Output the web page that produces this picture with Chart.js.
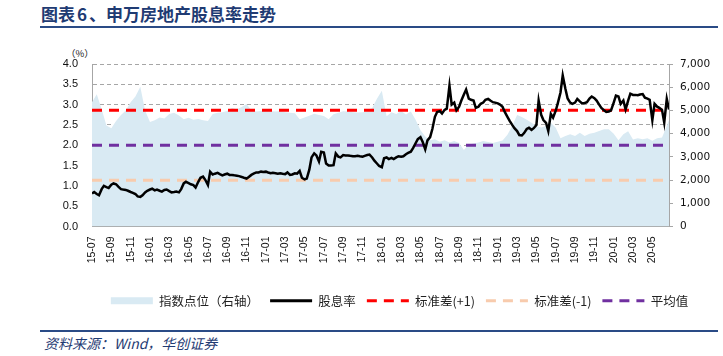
<!DOCTYPE html>
<html><head><meta charset="utf-8">
<script src="https://cdn.jsdelivr.net/npm/chart.js@4/dist/chart.umd.min.js"></script>
<style>
html,body{margin:0;padding:0;background:#fff;width:723px;height:356px;overflow:hidden;position:relative}
#title{position:absolute;left:41px;top:4px;font:bold 17px "Noto Sans CJK SC";line-height:20px;color:#1f3b73;white-space:nowrap}
#title .n{margin:0 2px}
#topline{position:absolute;left:40px;top:26px;width:678px;height:2px;background:#2a4b86}
#unit{position:absolute;left:66px;top:46px;font:9.5px "Noto Sans CJK SC";line-height:14px;color:#222;white-space:nowrap}
#wrap{position:absolute;left:0;top:30px;width:723px;height:290px}
#botline{position:absolute;left:40px;top:330px;width:678px;height:2px;background:#2a4b86}
#source{position:absolute;left:44px;top:334px;font:italic 14px "Noto Sans CJK SC";line-height:19px;color:#1f3b73;white-space:nowrap}
</style></head>
<body>
<div id="title">图表<span class="n">6</span>、申万房地产股息率走势</div>
<div id="topline"></div>
<div id="unit">（%）</div>
<div id="wrap"><canvas id="c" width="723" height="290"></canvas></div>
<div id="botline"></div>
<div id="source">资料来源：Wind，华创证券</div>
<script>
// x tick labels (every two months)
const tickLabels = ['15-07','15-09','15-11','16-01','16-03','16-05','16-07','16-09','16-11','17-01','17-03','17-05','17-07','17-09','17-11','18-01','18-03','18-05','18-07','18-09','18-11','19-01','19-03','19-05','19-07','19-09','19-11','20-01','20-03','20-05'];

// dividend yield (%), four readings per month (1st, 8th, 16th, 23rd), 2015-07 .. 2020-06
const dividendYield = [
  0.81,0.85,0.80,0.77, 0.92,1.00,0.97,0.95, 1.03,1.06,1.04,0.98, 0.92,0.91,0.90,0.88, 0.85,0.83,0.80,0.74, 0.73,0.77,0.84,0.88,
  0.91,0.93,0.89,0.91, 0.88,0.86,0.90,0.91, 0.87,0.84,0.85,0.86, 0.84,0.92,1.06,1.10, 1.07,1.04,1.02,0.96, 1.10,1.20,1.23,1.15,
  1.02,1.35,1.28,1.30, 1.32,1.29,1.26,1.28, 1.30,1.27,1.27,1.26, 1.25,1.24,1.22,1.20, 1.18,1.22,1.27,1.30, 1.33,1.33,1.35,1.34,
  1.35,1.33,1.31,1.32, 1.31,1.30,1.31,1.30, 1.29,1.33,1.27,1.28, 1.31,1.30,1.37,1.20, 1.16,1.18,1.40,1.70, 1.80,1.75,1.60,1.84,
  1.82,1.55,1.50,1.50, 1.51,1.80,1.72,1.70, 1.76,1.75,1.75,1.74, 1.73,1.73,1.74,1.73, 1.72,1.74,1.76,1.77, 1.70,1.62,1.55,1.49,
  1.46,1.68,1.70,1.66, 1.69,1.66,1.70,1.73, 1.72,1.73,1.78,1.81, 1.84,1.93,2.05,2.15, 2.20,2.08,1.90,2.12, 2.20,2.40,2.70,2.82,
  2.84,2.78,2.87,2.90, 3.47,3.00,3.05,2.86, 2.95,3.10,3.25,3.37, 3.15,3.12,3.10,2.92, 2.95,3.02,3.05,3.12, 3.14,3.10,3.06,3.05,
  3.03,3.00,2.95,2.82, 2.70,2.60,2.50,2.42, 2.35,2.25,2.24,2.30, 2.40,2.43,2.38,2.42, 2.50,3.10,2.75,2.62, 2.55,2.35,2.77,2.68,
  2.85,3.05,3.30,3.72, 3.39,3.15,3.05,3.02, 3.05,3.14,3.08,3.03, 3.04,3.06,3.15,3.20, 3.16,3.10,3.00,2.92, 2.86,2.82,2.83,2.86,
  3.05,3.22,3.20,3.02, 3.10,2.88,3.10,3.27, 3.24,3.24,3.23,3.25, 3.26,3.17,3.15,3.12, 2.62,3.02,2.95,2.92, 2.87,2.56,3.14,2.88
];

// index level (right axis), two readings per month (1st, 16th) plus a final reading on 2020-06-23
const indexLevel = [
  5350,5700, 5050,4350, 4230,4550, 4800,5000, 5350,5600, 6020,5000,
  4500,4580, 4700,4650, 4850,4900, 4780,4620, 4680,4600, 4630,4580,
  4550,4850, 4900,4920, 4980,5100, 5050,5150, 5280,5000, 4950,4980,
  4990,4960, 4950,4970, 4920,4900, 4880,4620, 4700,4770, 4860,4800,
  4760,4620, 4840,4900, 4960,4950, 4920,4910, 4920,4950, 5100,5500,
  5850,4750, 4920,4850, 4980,4820, 4950,4600, 4150,3880, 3720,3760,
  3650,3720, 3620,3680, 3600,3300, 3530,3580, 3620,3680, 3640,3600,
  3650,3700, 3950,4330, 4800,4720, 4600,4470, 4330,4260, 4330,4470,
  4250,3800, 3900,3970, 3900,4040, 3900,4000, 4040,4110, 4190,4190,
  4000,3720, 3970,4100, 3750,3800, 3760,3800, 3690,3800, 3830,4330,
  4600
];

const meanValue = 2.0;
const stdPlusValue = 2.86;
const stdMinusValue = 1.14;

// date categories
const lineDates = [];
const areaDates = [];
for (let i = 0; i < 60; i++) {
  const y = 2015 + Math.floor((6 + i) / 12), m = String((6 + i) % 12 + 1).padStart(2, '0');
  ['01','08','16','23'].forEach(d => lineDates.push(`${y}-${m}-${d}`));
  ['01','16'].forEach(d => areaDates.push(`${y}-${m}-${d}`));
}
areaDates.push('2020-06-23');

function monthIndex(s) {
  const [y, m, d] = s.split('-').map(Number);
  return (y - 2015) * 12 + (m - 7) + (d - 1) / 30.4;
}
const xMax = monthIndex('2020-06-23');

const lineData = lineDates.map((d, i) => ({x: monthIndex(d), y: dividendYield[i]}));
const areaData = areaDates.map((d, i) => ({x: monthIndex(d), y: indexLevel[i]}));
const flat = v => [{x: 0, y: v}, {x: xMax, y: v}];

const AREA = '#D9EAF3';
const legendShift = {
  id: 'legendShift',
  afterLayout(chart) { const l = chart.legend; if (l) { l.left += 38; l.right += 38; } }
};
new Chart(document.getElementById('c'), {
  type: 'line',
  plugins: [legendShift],
  data: {
    datasets: [
      {label: '指数点位（右轴）', data: areaData, yAxisID: 'yR', fill: 'origin', backgroundColor: AREA, borderWidth: 0, borderColor: 'rgba(0,0,0,0)', pointRadius: 0, order: 10},
      {label: '股息率', data: lineData, yAxisID: 'yL', borderColor: '#000', borderWidth: 2.5, pointRadius: 0, fill: false, order: 1},
      {label: '标准差(+1)', data: flat(stdPlusValue), yAxisID: 'yL', borderColor: '#FF0000', borderWidth: 3, borderDash: [10, 7], pointRadius: 0, fill: false, order: 2},
      {label: '标准差(-1)', data: flat(stdMinusValue), yAxisID: 'yL', borderColor: '#F8CBAD', borderWidth: 3, borderDash: [10, 7], pointRadius: 0, fill: false, order: 3},
      {label: '平均值', data: flat(meanValue), yAxisID: 'yL', borderColor: '#7030A0', borderWidth: 3, borderDash: [10, 7], pointRadius: 0, fill: false, order: 4}
    ]
  },
  options: {
    responsive: false,
    animation: false,
    events: [],
    layout: {padding: {left: 0, right: 0, top: 34, bottom: 3}},
    plugins: {
      tooltip: {enabled: false},
      legend: {
        position: 'bottom',
        labels: {
          usePointStyle: true, pointStyleWidth: 42, boxHeight: 7, padding: 11,
          font: {family: '"Noto Sans CJK SC"', size: 12.5}, color: '#222',
          sort: (a, b) => a.datasetIndex - b.datasetIndex,
          generateLabels: chart => chart.data.datasets.map((ds, i) => ({
            text: ds.label, datasetIndex: i, hidden: false,
            fillStyle: i === 0 ? AREA : 'rgba(0,0,0,0)',
            strokeStyle: i === 0 ? 'rgba(0,0,0,0)' : ds.borderColor,
            lineWidth: i === 0 ? 0 : 3,
            lineDash: ds.borderDash || [],
            pointStyle: i === 0 ? 'rect' : 'line',
            fontColor: '#222'
          }))
        }
      }
    },
    scales: {
      x: {
        type: 'linear', min: 0, max: xMax,
        afterBuildTicks: s => { s.ticks = tickLabels.map((t, i) => ({value: i * 2})); },
        afterFit: s => { s.height = 57; },
        ticks: {autoSkip: false, minRotation: 90, maxRotation: 90, padding: 10, color: '#111',
          font: {family: '"Liberation Sans"', size: 10.5},
          callback: v => tickLabels[Math.round(v / 2)]},
        grid: {color: 'rgba(0,0,0,0)', drawTicks: false},
        border: {color: '#A6A6A6', width: 1}
      },
      yL: {
        position: 'left', min: 0, max: 4,
        afterFit: s => { s.width = 92; },
        ticks: {stepSize: 0.5, padding: 14, color: '#111', font: {family: '"Liberation Sans"', size: 11},
          callback: v => Number(v).toFixed(1)},
        grid: {color: '#A6A6A6', drawTicks: false, lineWidth: 1},
        border: {dash: [4, 3], color: '#A6A6A6', width: 1}
      },
      yR: {
        position: 'right', min: 0, max: 7000,
        afterFit: s => { s.width = 54; },
        ticks: {stepSize: 1000, padding: 7, color: '#111', font: {family: '"DejaVu Sans"', size: 10.5},
          callback: v => Number(v).toLocaleString('en-US')},
        grid: {drawOnChartArea: false, drawTicks: true, tickLength: 4, color: '#A6A6A6'},
        border: {color: '#A6A6A6', width: 1}
      }
    }
  }
});
</script>
</body></html>
